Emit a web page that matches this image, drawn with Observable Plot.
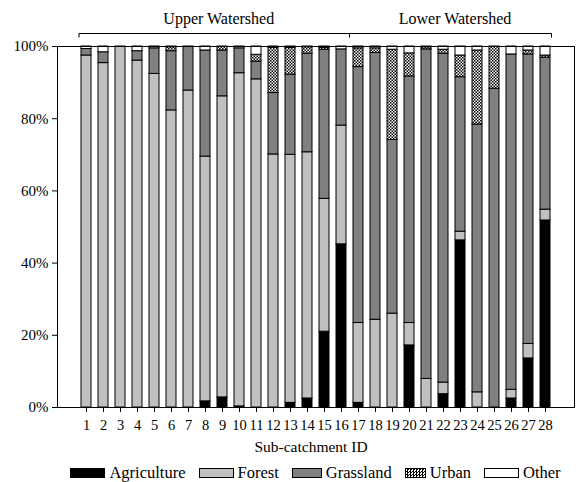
<!DOCTYPE html>
<html>
<head>
<meta charset="utf-8">
<script src="https://cdn.jsdelivr.net/npm/d3@7"></script>
<script src="https://cdn.jsdelivr.net/npm/@observablehq/plot@0.6"></script>
<style>
  body { margin: 0; background: #fff; font-family: 'Liberation Serif', serif; }
  #legend { display: flex; justify-content: center; align-items: center; height: 22px; margin-top: 4px; margin-left: 57px; width: 517px; font-size: 16.5px; color: #000; white-space: nowrap; }
  #legend .item { display: flex; align-items: center; margin: 0 6.5px; }
  #legend .sw { height: 10px; border: 1px solid #000; margin-right: 4px; box-sizing: border-box; }
</style>
</head>
<body>
<div id="chart"></div>
<div id="legend"></div>
<script>
const ids = [1,2,3,4,5,6,7,8,9,10,11,12,13,14,15,16,17,18,19,20,21,22,23,24,25,26,27,28];
const categories = ["Agriculture", "Forest", "Grassland", "Urban", "Other"];
const agriculture = [0,0,0,0,0,0,0,1.7,2.8,0.3,0,0,1.3,2.5,21.0,45.2,1.3,0,0,17.2,0,3.7,46.3,0,0,2.5,13.6,51.8];
const forest      = [97.5,95.4,100,96.1,92.4,82.3,87.8,67.8,83.4,92.3,90.9,70.1,68.7,68.2,36.8,32.9,22.1,24.3,26.0,6.2,7.9,3.2,2.4,4.2,0,2.4,4.0,3.0];
const grassland   = [1.8,3.0,0,2.6,7.1,16.4,12.2,29.4,12.7,6.9,4.9,17.0,22.2,27.3,41.3,21.1,70.9,73.9,48.1,68.3,91.3,91.1,42.8,74.2,88.3,92.9,80.2,42.1];
const urban       = [0,0,0,0,0,1.1,0,0,1.1,0,1.9,12.5,7.4,1.8,0.5,0,5.2,1.3,25.0,6.4,0.6,1.1,6.0,20.5,11.7,0,1.1,0.6];
const other       = [0.7,1.6,0,1.3,0.5,0.2,0,1.1,0,0.5,2.3,0.4,0.4,0.2,0.4,0.8,0.5,0.5,0.9,1.9,0.2,0.9,2.5,1.1,0,2.2,1.1,2.5];
const yTicks = [0, 20, 40, 60, 80, 100];
const groups = [{label: "Upper Watershed", first: 1, last: 16}, {label: "Lower Watershed", first: 17, last: 28}];
const xTitle = "Sub-catchment ID";

const series = [agriculture, forest, grassland, urban, other];
const fills = ["#000000", "#c0c0c0", "#808080", "url(#checker)", "#ffffff"];
const rows = [];
ids.forEach((id, i) => categories.forEach((c, k) => rows.push({id, cat: c, value: series[k][i]})));

const FONT = "'Liberation Serif', serif";

const chart = Plot.plot({
  width: 582,
  height: 458,
  marginTop: 46,
  marginBottom: 51,
  marginLeft: 57,
  marginRight: 8,
  style: {fontFamily: FONT, fontSize: "15px", color: "#000", background: "#fff"},
  x: {type: "band", domain: ids, paddingInner: 0.4, paddingOuter: 0.72, label: null},
  y: {domain: [0, 100], label: null},
  color: {type: "ordinal", domain: categories, range: fills},
  marks: [
    Plot.barY(rows, {x: "id", y: "value", fill: "cat", order: categories, stroke: "#000", strokeWidth: 1}),
    Plot.frame({stroke: "#000", strokeWidth: 1}),
    Plot.axisY({ticks: yTicks, tickFormat: d => d + "%", tickSize: 5, tickPadding: 4, label: null, stroke: "#000", fontSize: 15}),
    Plot.axisX({tickSize: 5, tickPadding: 7, label: null, stroke: "#000", fontSize: 14.5}),
    Plot.text([xTitle], {frameAnchor: "bottom", lineAnchor: "bottom", dy: 44, dx: -5, text: d => d, fontSize: 15.5})
  ]
});

// checker pattern for Urban
const svg = d3.select(chart);
const defs = svg.insert("defs", ":first-child");
const pat = defs.append("pattern").attr("id", "checker").attr("patternUnits", "userSpaceOnUse").attr("width", 3).attr("height", 3);
pat.append("rect").attr("width", 3).attr("height", 3).attr("fill", "#fff");
pat.append("rect").attr("width", 1.5).attr("height", 1.5).attr("fill", "#000");
pat.append("rect").attr("x", 1.5).attr("y", 1.5).attr("width", 1.5).attr("height", 1.5).attr("fill", "#000");

// group brackets positioned with the x scale
const xs = chart.scale("x");
const bw = xs.bandwidth;
const left = xs.apply(groups[0].first) - 2;
const right = xs.apply(groups[1].last) + bw + 1.5;
const mid = (xs.apply(groups[0].last) + bw + xs.apply(groups[1].first)) / 2;
const by = 33.5;
const gB = svg.append("g").attr("stroke", "#000").attr("stroke-width", 1).attr("fill", "none");
gB.append("line").attr("x1", left).attr("x2", right).attr("y1", by).attr("y2", by);
[left, mid, right].forEach(x => gB.append("line").attr("x1", x).attr("x2", x).attr("y1", by).attr("y2", by + 4));
const spans = [[left, mid], [mid, right]];
groups.forEach((g, i) => {
  svg.append("text").attr("x", (spans[i][0] + spans[i][1]) / 2 + 4.5).attr("y", 24)
    .attr("text-anchor", "middle").attr("font-size", 16).attr("fill", "#000").text(g.label);
});

document.getElementById("chart").appendChild(chart);

// legend
const swW = [35, 35, 30, 21, 35];
const legend = d3.select("#legend");
categories.forEach((c, k) => {
  const item = legend.append("div").attr("class", "item");
  const sw = item.append("div").attr("class", "sw").style("width", swW[k] + "px");
  if (c === "Urban") {
    sw.style("background-image", "repeating-conic-gradient(#000 0 25%, #fff 0 50%)").style("background-size", "3px 3px");
  } else {
    sw.style("background", fills[k]);
  }
  item.append("span").text(c);
});
</script>
</body>
</html>
